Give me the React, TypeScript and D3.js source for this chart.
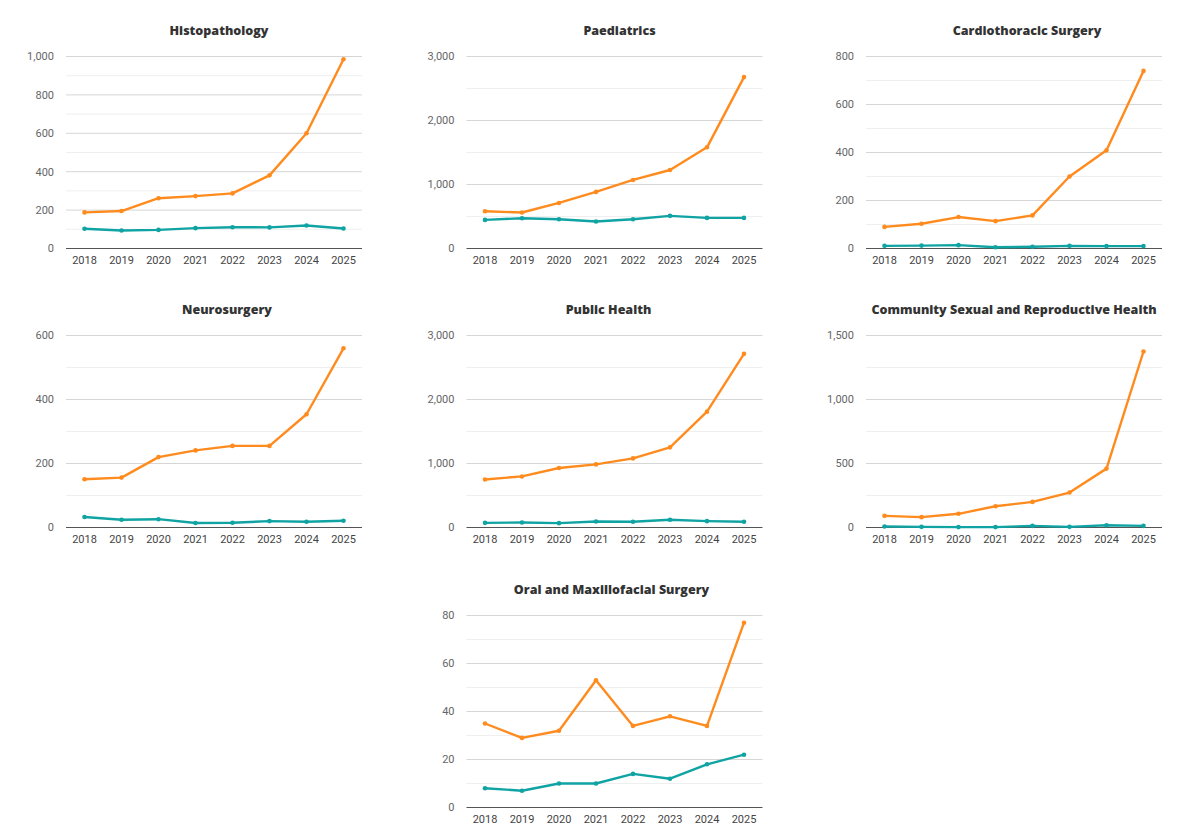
import React from "react";
import * as d3 from "d3";

const years = ["2018", "2019", "2020", "2021", "2022", "2023", "2024", "2025"];

const titles = [
  "Histopathology",
  "Paediatrics",
  "Cardiothoracic Surgery",
  "Neurosurgery",
  "Public Health",
  "Community Sexual and Reproductive Health",
  "Oral and Maxillofacial Surgery",
];

const orangeSeries = [
  [188, 195, 262, 273, 287, 381, 600, 986],
  [582, 562, 712, 884, 1071, 1227, 1581, 2678],
  [90, 103, 131, 114, 138, 300, 409, 740],
  [151, 156, 220, 241, 255, 255, 354, 560],
  [751, 798, 929, 986, 1080, 1252, 1810, 2713],
  [91, 81, 107, 166, 200, 273, 460, 1375],
  [35, 29, 32, 53, 34, 38, 34, 77],
];

const tealSeries = [
  [103, 94, 97, 106, 111, 110, 120, 104],
  [447, 473, 458, 421, 458, 510, 478, 478],
  [11, 12, 14, 5, 7, 11, 10, 10],
  [33, 24, 26, 14, 15, 20, 18, 21],
  [73, 78, 68, 94, 89, 120, 99, 89],
  [8, 5, 3, 3, 13, 5, 18, 13],
  [8, 7, 10, 10, 14, 12, 18, 22],
];

const yMax = [1000, 3000, 800, 600, 3000, 1500, 80];
const majorStep = [200, 1000, 200, 200, 1000, 500, 20];

// layout (not data)
const panelCol = [0, 1, 2, 0, 1, 2, 1];
const panelRow = [0, 0, 0, 1, 1, 1, 2];
const colX = [66, 466.5, 866];
const rowTop = [56.5, 335.5, 615.5];
const plotW = 296;
const plotH = 192;
const titleDx = [5, 5, 13, 13, -6, 0, -3];

const ORANGE = "#FF8B1E";
const TEAL = "#10A3A3";
const fmt = d3.format(",");

function Panel({ i }: { i: number }) {
  const x0 = colX[panelCol[i]];
  const y0 = rowTop[panelRow[i]];
  const x = d3.scalePoint<string>().domain(years).range([0, plotW]).padding(0.5);
  const y = d3.scaleLinear().domain([0, yMax[i]]).range([plotH, 0]);
  const step = majorStep[i];
  const majors = d3.range(0, yMax[i] + step / 2, step);
  const minors = d3.range(step / 2, yMax[i], step);
  const line = d3
    .line<number>()
    .x((_, j) => x(years[j]) as number)
    .y((d) => y(d));
  const series = [
    { vals: orangeSeries[i], color: ORANGE },
    { vals: tealSeries[i], color: TEAL },
  ];
  return (
    <g transform={`translate(${x0},${y0})`}>
      <text
        x={plotW / 2 + titleDx[i]}
        y={-22}
        textAnchor="middle"
        fontFamily="'Open Sans', sans-serif"
        fontWeight={800}
        fontSize={12.5}
        fill="#333"
      >
        {titles[i]}
      </text>
      {minors.map((v) => (
        <line key={"m" + v} x1={0} x2={plotW} y1={y(v)} y2={y(v)} stroke="#efefef" strokeWidth={1} />
      ))}
      {majors.map((v) => (
        <g key={"M" + v}>
          {v > 0 && <line x1={0} x2={plotW} y1={y(v)} y2={y(v)} stroke="#d6d6d6" strokeWidth={1} />}
          <text
            x={-12}
            y={y(v)}
            dy="0.35em"
            textAnchor="end"
            fontFamily="Roboto, sans-serif"
            fontSize={11}
            fill="#666"
          >
            {fmt(v)}
          </text>
        </g>
      ))}
      <line x1={0} x2={plotW} y1={plotH} y2={plotH} stroke="#555" strokeWidth={1.2} />
      {years.map((yr) => (
        <text
          key={yr}
          x={x(yr)}
          y={plotH + 15.5}
          textAnchor="middle"
          fontFamily="Roboto, sans-serif"
          fontSize={11}
          fill="#444"
        >
          {yr}
        </text>
      ))}
      {series.map((s, k) => (
        <g key={k}>
          <path d={line(s.vals) || ""} fill="none" stroke={s.color} strokeWidth={2.4} strokeLinejoin="round" />
          {s.vals.map((v, j) => (
            <circle key={j} cx={x(years[j])} cy={y(v)} r={2.3} fill={s.color} />
          ))}
        </g>
      ))}
    </g>
  );
}

export default function App() {
  return (
    <div style={{ position: "absolute", left: 0, top: 0, width: 1200, height: 840, background: "#fff" }}>
      <svg width={1200} height={840} style={{ display: "block" }}>
        <rect width={1200} height={840} fill="#fff" />
        {titles.map((_, i) => (
          <Panel key={i} i={i} />
        ))}
      </svg>
    </div>
  );
}
